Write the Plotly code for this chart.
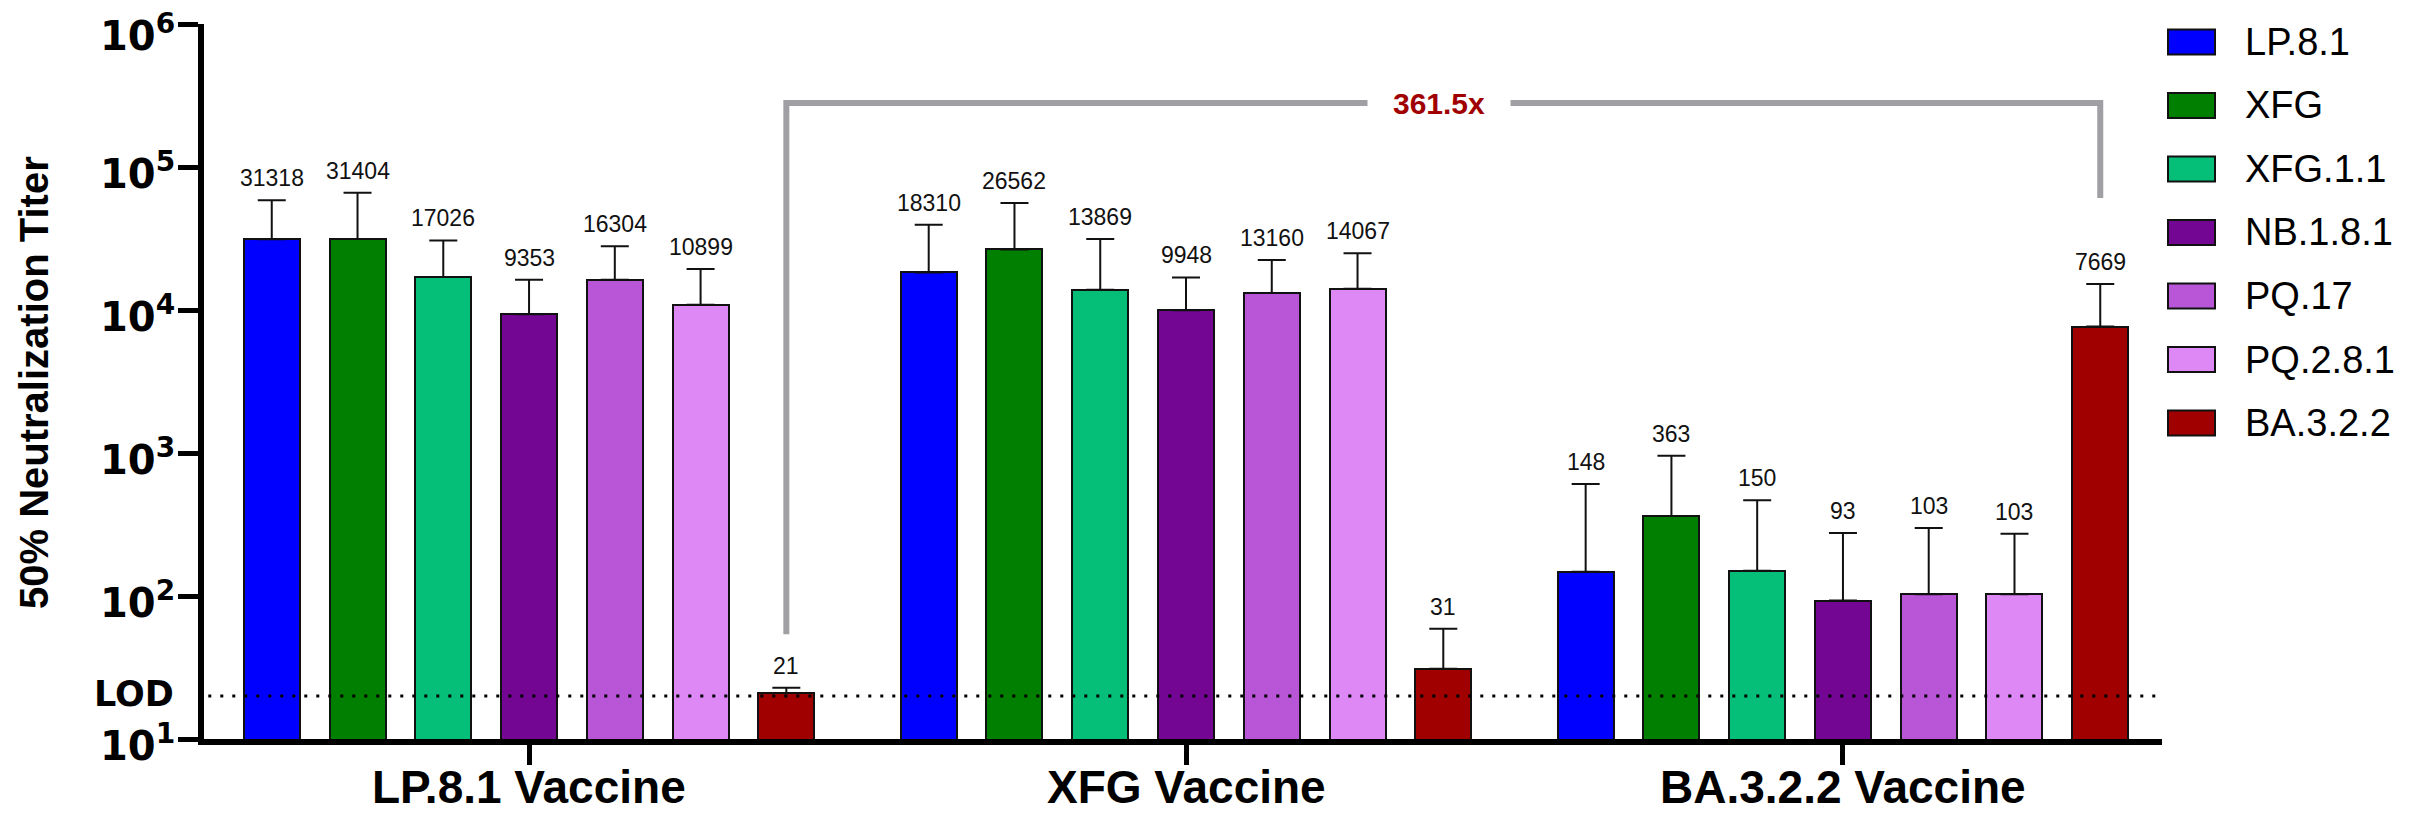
import math
import plotly.graph_objects as go

# ---- data ----
vaccines = ["LP.8.1 Vaccine", "XFG Vaccine", "BA.3.2.2 Vaccine"]
variants = ["LP.8.1", "XFG", "XFG.1.1", "NB.1.8.1", "PQ.17", "PQ.2.8.1", "BA.3.2.2"]

# geometric mean titers, one list per vaccine group (in variant order)
titer_lp81 = [31318, 31404, 17026, 9353, 16304, 10899, 21]
titer_xfg = [18310, 26562, 13869, 9948, 13160, 14067, 31]
titer_ba322 = [148, 363, 150, 93, 103, 103, 7669]

# upper end of each error bar
upper_lp81 = [58500, 66100, 30700, 16300, 27900, 19400, 22.8]
upper_xfg = [39500, 56000, 31400, 16900, 22400, 25000, 59]
upper_ba322 = [607, 957, 467, 276, 299, 273, 15200]

LOD = 20
fold_text = "361.5x"
y_decades = [1, 2, 3, 4, 5, 6]

colors = ["#0000FF", "#007F00", "#05BF78", "#730794", "#B856D7", "#DD88F5", "#A00000"]

# ---- layout geometry ----
W, H = 2415, 813
L, R, T, B = 204, 2162, 24, 739  # plot area edges in pixels
GROUP_GAP = 0.66
N = len(variants)
BAR_W = 0.653
X_MIN, X_MAX = -0.79, 2 * (N + GROUP_GAP) + (N - 1) + 0.72

FONT = "Liberation Sans, Arial, sans-serif"
HEAVY = "DejaVu Sans, Liberation Sans, sans-serif"


def pos(g, i):
    return g * (N + GROUP_GAP) + i


def px(x):
    return (x - L) / (R - L)


def py(y):
    return (B - y) / (B - T)


titers = [titer_lp81, titer_xfg, titer_ba322]
uppers = [upper_lp81, upper_xfg, upper_ba322]

fig = go.Figure()

# limit of detection (dotted, behind the bars)
fig.add_trace(go.Scatter(
    x=[X_MIN + 0.05, X_MAX - 0.05], y=[LOD, LOD], mode="lines",
    line=dict(color="black", width=3, dash="3px,9px"),
    showlegend=False, hoverinfo="skip",
))

for i, name in enumerate(variants):
    xs = [pos(g, i) for g in range(len(vaccines))]
    ys = [titers[g][i] for g in range(len(vaccines))]
    up = [uppers[g][i] - titers[g][i] for g in range(len(vaccines))]
    fig.add_trace(go.Bar(
        x=xs, y=ys, name=name, width=BAR_W,
        marker=dict(color=colors[i], line=dict(color="#111111", width=2)),
        error_y=dict(type="data", symmetric=False, array=up, arrayminus=[0] * len(up),
                     color="#111111", thickness=2, width=14),
        showlegend=False,
    ))

annotations = []
# value labels above each error bar
for g in range(len(vaccines)):
    for i in range(N):
        annotations.append(dict(
            x=pos(g, i), y=math.log10(uppers[g][i]), xref="x", yref="y",
            text=str(titers[g][i]), showarrow=False, yanchor="bottom", yshift=7,
            font=dict(family=FONT, size=23, color="#111111"),
        ))

# fold-change bracket between BA.3.2.2 titers of LP.8.1 and BA.3.2.2 vaccines
bx0, bx1 = pos(0, N - 1), pos(2, N - 1)
b_top, b_left, b_right = 2.8e5, 54, 6.07e4
fig.add_trace(go.Scatter(
    x=[bx0, bx0, bx1, bx1], y=[b_left, b_top, b_top, b_right], mode="lines",
    line=dict(color="#A0A0A4", width=6), showlegend=False, hoverinfo="skip",
))
annotations.append(dict(
    x=pos(1, N - 1) - 0.05, y=math.log10(b_top), xref="x", yref="y", text="<b>" + fold_text + "</b>",
    showarrow=False, bgcolor="white", borderpad=6, xanchor="center", yanchor="middle",
    font=dict(family=FONT, size=30, color="#A00000"),
    width=130,
))

# y tick labels (powers of ten) and the LOD marker
for e in y_decades:
    annotations.append(dict(
        x=px(177), y=e, xref="paper", yref="y", text="<b>10<sup>%d</sup></b>" % e,
        showarrow=False, xanchor="right", yanchor="middle", yshift=-4 if e < 6 else -9,
        font=dict(family=HEAVY, size=40, color="black"),
    ))
annotations.append(dict(
    x=px(176), y=math.log10(LOD), xref="paper", yref="y", text="<b>LOD</b>",
    showarrow=False, xanchor="right", yanchor="middle", yshift=2,
    font=dict(family=HEAVY, size=35, color="black"),
))

# group labels under the x axis
for g, name in enumerate(vaccines):
    annotations.append(dict(
        x=pos(g, 3), y=py(787), xref="x", yref="paper", text="<b>" + name + "</b>",
        showarrow=False, xanchor="center", yanchor="middle",
        font=dict(family=FONT, size=46, color="black"),
    ))

# y-axis title
annotations.append(dict(
    x=px(34), y=py(383), xref="paper", yref="paper", text="<b>50% Neutralization Titer</b>",
    textangle=-90, showarrow=False, xanchor="center", yanchor="middle",
    font=dict(family=FONT, size=40, color="black"),
))

# legend
shapes = []
for k, name in enumerate(variants):
    yc = 42 + k * 63.5
    shapes.append(dict(type="rect", xref="paper", yref="paper",
                       x0=px(2168), x1=px(2215), y0=py(yc - 12.5), y1=py(yc + 12.5),
                       fillcolor=colors[k], line=dict(color="#111111", width=2)))
    annotations.append(dict(
        x=px(2243), y=py(yc), xref="paper", yref="paper", text=name,
        showarrow=False, xanchor="left", yanchor="middle",
        font=dict(family=FONT, size=38, color="black"),
    ))

fig.update_layout(
    width=W, height=H,
    margin=dict(l=L, r=W - R, t=T, b=H - B, pad=0),
    plot_bgcolor="white", paper_bgcolor="white",
    bargap=0, showlegend=False,
    shapes=shapes, annotations=annotations,
    xaxis=dict(
        range=[X_MIN, X_MAX], tickmode="array", automargin=False,
        tickvals=[pos(g, 3) for g in range(len(vaccines))], showticklabels=False,
        showline=True, linecolor="black", linewidth=6,
        ticks="outside", ticklen=20, tickwidth=5, tickcolor="black",
        showgrid=False, zeroline=False,
    ),
    yaxis=dict(
        type="log", range=[1, 6.0005], tickmode="array", automargin=False,
        tickvals=[10 ** e for e in y_decades], showticklabels=False,
        showline=True, linecolor="black", linewidth=6,
        ticks="outside", ticklen=20, tickwidth=5, tickcolor="black",
        showgrid=False, zeroline=False,
    ),
)

fig.write_html("out.html")
